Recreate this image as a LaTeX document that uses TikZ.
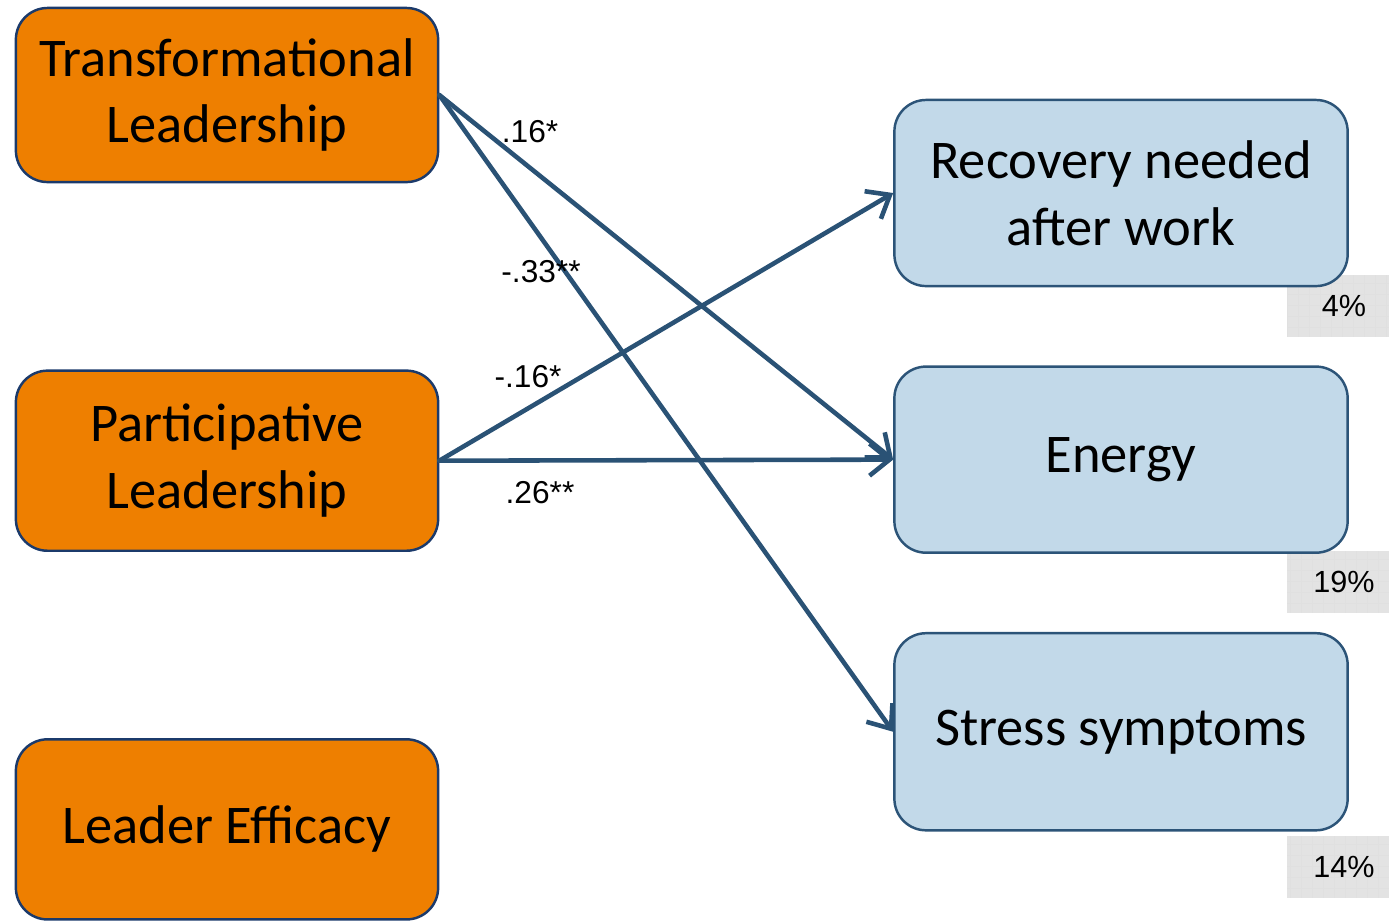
\documentclass[tikz,border=0pt]{standalone}
\usepackage{fontspec}
\setmainfont{Carlito}
\newfontfamily\labelfont{Liberation Sans}
\usepackage{xcolor}
\definecolor{LeadOrange}{HTML}{EE7F00}
\definecolor{LeadInk}{HTML}{1B3A6B}
\definecolor{OutFill}{HTML}{C2D9E9}
\definecolor{OutInk}{HTML}{2C5478}
\definecolor{PathInk}{HTML}{2A5275}
\definecolor{PctFill}{HTML}{E3E3E3}
\usepackage{tikz}
\usetikzlibrary{arrows.meta,positioning,calc}

\begin{document}
\begin{tikzpicture}[
  x=0.01cm, y=-0.01cm,
  font=\fontsize{15.5}{19}\selectfont,
  lead/.style={draw=LeadInk, line width=0.7pt, fill=LeadOrange, rounded corners=9pt,
               align=center, minimum width=4.22cm, minimum height=1.8cm},
  outc/.style={draw=OutInk, line width=0.7pt, fill=OutFill, rounded corners=9pt,
               align=center, minimum width=4.53cm, minimum height=1.86cm},
  pct/.style={fill=PctFill, minimum width=1.02cm, minimum height=0.62cm, inner sep=0pt,
              font=\labelfont\fontsize{8.7}{10}\selectfont,
              path picture={\draw[black!12, line width=0.3pt, step=0.11cm]
                (path picture bounding box.south west) grid (path picture bounding box.north east);}},
  coef/.style={font=\labelfont\fontsize{9}{10}\selectfont, inner sep=1pt},
  arr/.style={-{Straight Barb[length=2mm, width=3.2mm, line width=1.3pt]}, line width=1.3pt,
              PathInk, line cap=round}
]
  \useasboundingbox (0,0) rectangle (1389,920);

  % explained variance
  \node[pct] (r2rec) at (1338,306) {\hspace{1.2mm}4\%};
  \node[pct] (r2en) at (1338,582) {\hspace{1.2mm}19\%};
  \node[pct] (r2st) at (1338,867) {\hspace{1.2mm}14\%};

  % leadership
  \node[lead, minimum height=1.74cm] (trans) at (227,95) {Transformational\\Leadership};
  \node[lead, below=1.86cm of trans] (part) {Participative\\Leadership};
  \node[lead, below=1.86cm of part] (eff) {Leader Efficacy};

  % outcomes
  \node[outc] (rec) at (1121,193) {Recovery needed\\after work};
  \node[outc, below=0.78cm of rec] (energy) {Energy};
  \node[outc, below=0.78cm of energy, minimum height=1.97cm] (stress) {Stress symptoms};

  % paths
  \draw[arr] (trans.east) -- (energy.west);
  \draw[arr] (trans.east) -- (stress.west);
  \draw[arr] (part.east) -- (rec.west);
  \draw[arr] (part.east) -- (energy.west);

  \node[coef] (c1) at (530,132) {.16*};
  \node[coef] (c2) at (541,272) {-.33**};
  \node[coef] (c3) at (528,377) {-.16*};
  \node[coef] (c4) at (540,493) {.26**};
\end{tikzpicture}
\end{document}
